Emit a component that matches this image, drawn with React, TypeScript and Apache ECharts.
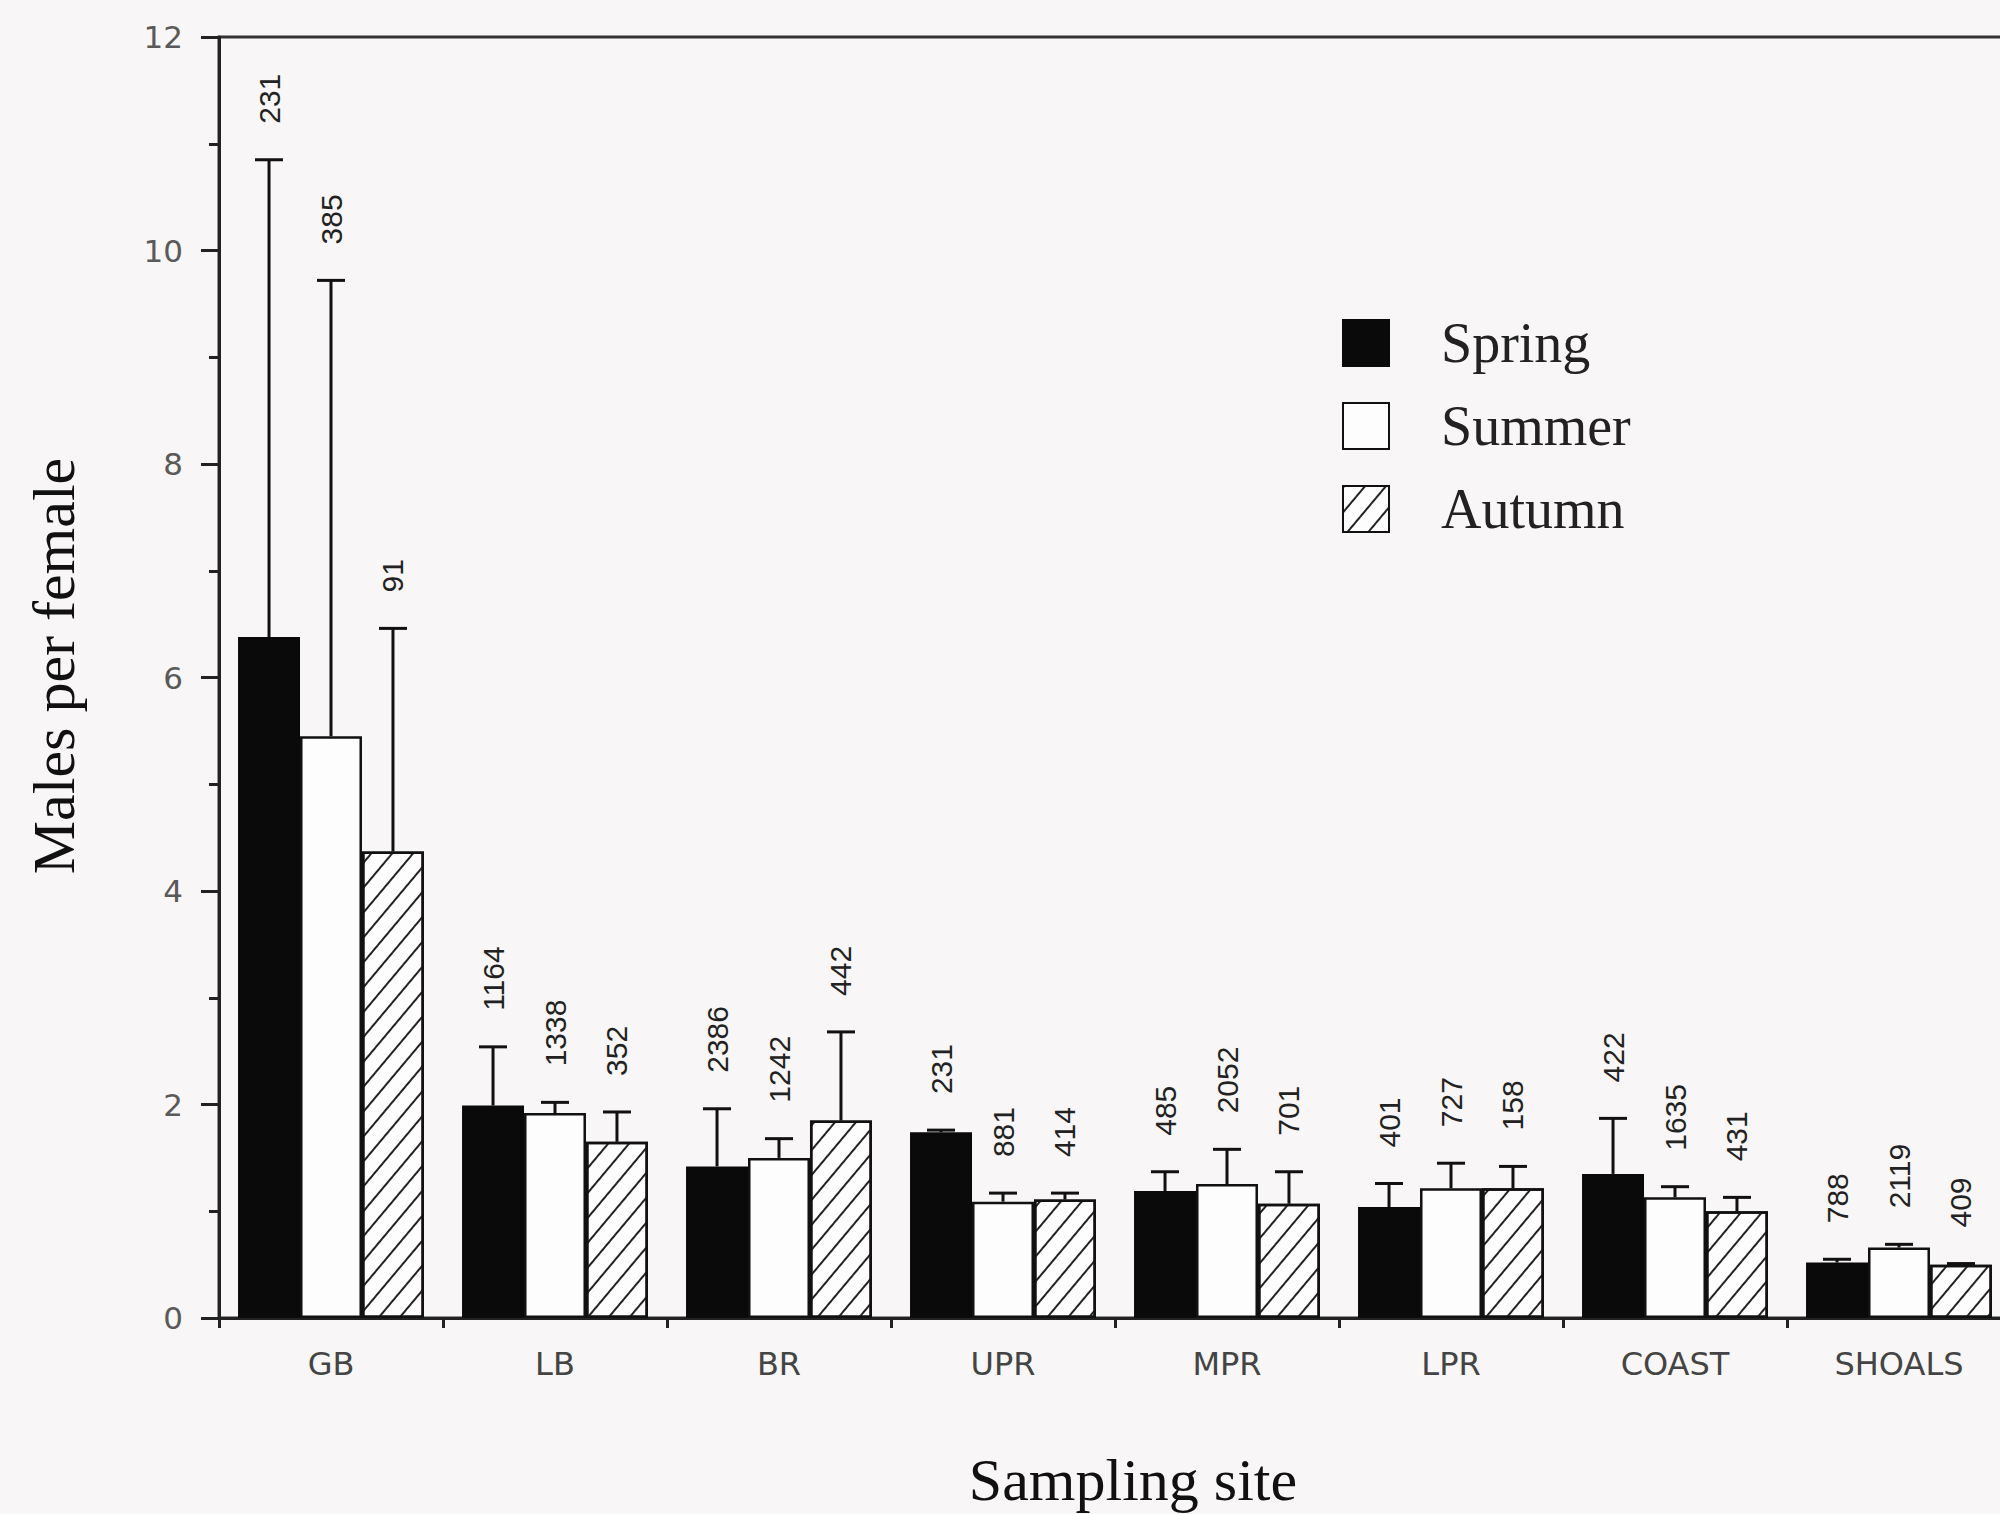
import React, { useEffect, useRef } from "react";
import * as echarts from "echarts";

const categories = ["GB", "LB", "BR", "UPR", "MPR", "LPR", "COAST", "SHOALS"];
const seasons = ["Spring", "Summer", "Autumn"];

const springMean = [6.38, 1.99, 1.42, 1.74, 1.19, 1.04, 1.35, 0.52];
const springUpper = [10.85, 2.54, 1.96, 1.76, 1.37, 1.26, 1.87, 0.55];
const springN = [231, 1164, 2386, 231, 485, 401, 422, 788];

const summerMean = [5.45, 1.92, 1.5, 1.09, 1.255, 1.215, 1.13, 0.66];
const summerUpper = [9.72, 2.02, 1.68, 1.17, 1.58, 1.45, 1.23, 0.69];
const summerN = [385, 1338, 1242, 881, 2052, 727, 1635, 2119];

const autumnMean = [4.37, 1.65, 1.85, 1.11, 1.07, 1.215, 1.0, 0.5];
const autumnUpper = [6.46, 1.93, 2.68, 1.17, 1.37, 1.42, 1.13, 0.51];
const autumnN = [91, 352, 442, 414, 701, 158, 431, 409];

const CAT_GAP = 0.17;

export default function App() {
  const ref = useRef<HTMLDivElement>(null);
  useEffect(() => {
    if (!ref.current) return;
    const chart = echarts.init(ref.current, null, { renderer: "svg" });

    const means = [springMean, summerMean, autumnMean];
    const uppers = [springUpper, summerUpper, autumnUpper];
    const ns = [springN, summerN, autumnN];
    const errData: any[] = [];
    for (let s = 0; s < 3; s++) {
      for (let c = 0; c < categories.length; c++) {
        errData.push([c, s, means[s][c], uppers[s][c], ns[s][c]]);
      }
    }

    const border = "#111";
    const option: any = {
      animation: false,
      backgroundColor: "#f8f6f6",
      grid: {
        left: 219,
        top: 37,
        width: 1792,
        height: 1281,
        show: true,
        borderColor: "#333",
        borderWidth: 3,
        backgroundColor: "transparent",
      },
      legend: {
        data: seasons,
        orient: "vertical",
        left: 1342,
        top: 315,
        padding: 0,
        itemWidth: 46,
        itemHeight: 46,
        itemGap: 27,
        icon: "rect",
        textStyle: {
          fontFamily: "'Liberation Serif', serif",
          fontSize: 56,
          color: "#222",
          lineHeight: 46,
          padding: [0, 0, 0, 47],
        },
      },
      xAxis: {
        type: "category",
        data: categories,
        axisLine: { lineStyle: { color: "#222", width: 3 } },
        axisTick: { show: true, length: 10, lineStyle: { color: "#222", width: 3 } },
        axisLabel: {
          fontFamily: "'DejaVu Sans', sans-serif",
          fontSize: 32,
          color: "#444",
          margin: 30,
        },
        splitLine: { show: false },
      },
      yAxis: {
        type: "value",
        min: 0,
        max: 12,
        interval: 2,
        axisLine: { show: true, lineStyle: { color: "#222", width: 3 } },
        axisTick: { show: true, length: 18, lineStyle: { color: "#222", width: 3 } },
        minorTick: { show: true, splitNumber: 2, length: 10, lineStyle: { color: "#222", width: 3 } },
        axisLabel: {
          fontFamily: "'DejaVu Sans', sans-serif",
          fontSize: 31,
          color: "#5a5a5a",
          margin: 36,
        },
        splitLine: { show: false },
        minorSplitLine: { show: false },
      },
      graphic: [
        {
          type: "text",
          x: 54,
          y: 666,
          rotation: Math.PI / 2,
          style: {
            text: "Males per female",
            font: "60px 'Liberation Serif', serif",
            fill: "#111",
            align: "center",
            verticalAlign: "middle",
            textAlign: "center",
            textVerticalAlign: "middle",
          },
        },
        {
          type: "text",
          x: 1133,
          y: 1480,
          style: {
            text: "Sampling site",
            font: "60px 'Liberation Serif', serif",
            fill: "#111",
            align: "center",
            verticalAlign: "middle",
            textAlign: "center",
            textVerticalAlign: "middle",
          },
        },
      ],
      series: [
        {
          name: "Spring",
          type: "bar",
          data: springMean,
          barGap: "0%",
          barCategoryGap: CAT_GAP * 100 + "%",
          itemStyle: { color: "#0a0a0a", borderColor: "#0a0a0a", borderWidth: 2.5 },
        },
        {
          name: "Summer",
          type: "bar",
          data: summerMean,
          barGap: "0%",
          barCategoryGap: CAT_GAP * 100 + "%",
          itemStyle: { color: "#fdfdfd", borderColor: border, borderWidth: 2.5 },
        },
        {
          name: "Autumn",
          type: "bar",
          data: autumnMean,
          barGap: "0%",
          barCategoryGap: CAT_GAP * 100 + "%",
          itemStyle: {
            color: "#fdfdfd",
            borderColor: border,
            borderWidth: 2.5,
            decal: {
              symbol: "rect",
              symbolSize: 1,
              color: "#222",
              dashArrayX: [1, 0],
              dashArrayY: [2, 14],
              rotation: (-50 * Math.PI) / 180,
            },
          },
        },
        {
          name: "errors",
          type: "custom",
          data: errData,
          encode: { x: 0, y: 3 },
          z: 10,
          renderItem: (params: any, api: any) => {
            const c = api.value(0);
            const s = api.value(1);
            const mean = api.value(2);
            const upper = api.value(3);
            const n = api.value(4);
            const center = api.coord([c, 0]);
            const band = api.size([1, 0])[0];
            const barW = (band * (1 - CAT_GAP)) / 3;
            const x = center[0] + (s - 1) * barW;
            const yMean = api.coord([c, mean])[1];
            const yTop = api.coord([c, upper])[1];
            const stroke = { stroke: "#111", lineWidth: 3 };
            return {
              type: "group",
              children: [
                { type: "line", shape: { x1: x, y1: yMean, x2: x, y2: yTop }, style: stroke },
                { type: "line", shape: { x1: x - 14, y1: yTop, x2: x + 14, y2: yTop }, style: stroke },
                {
                  type: "text",
                  x: x,
                  y: yTop - 36,
                  rotation: Math.PI / 2,
                  style: {
                    text: String(n),
                    font: "30px 'Liberation Sans Narrow', 'Liberation Sans', sans-serif",
                    fill: "#222",
                    align: "left",
                    verticalAlign: "middle",
                    textAlign: "left",
                    textVerticalAlign: "middle",
                  },
                },
              ],
            };
          },
        },
      ],
    };

    chart.setOption(option);
    return () => chart.dispose();
  }, []);

  return (
    <div style={{ position: "fixed", left: 0, top: 0, width: 2000, height: 1514, overflow: "hidden" }}>
      <div ref={ref} style={{ width: 2040, height: 1514 }} />
    </div>
  );
}
